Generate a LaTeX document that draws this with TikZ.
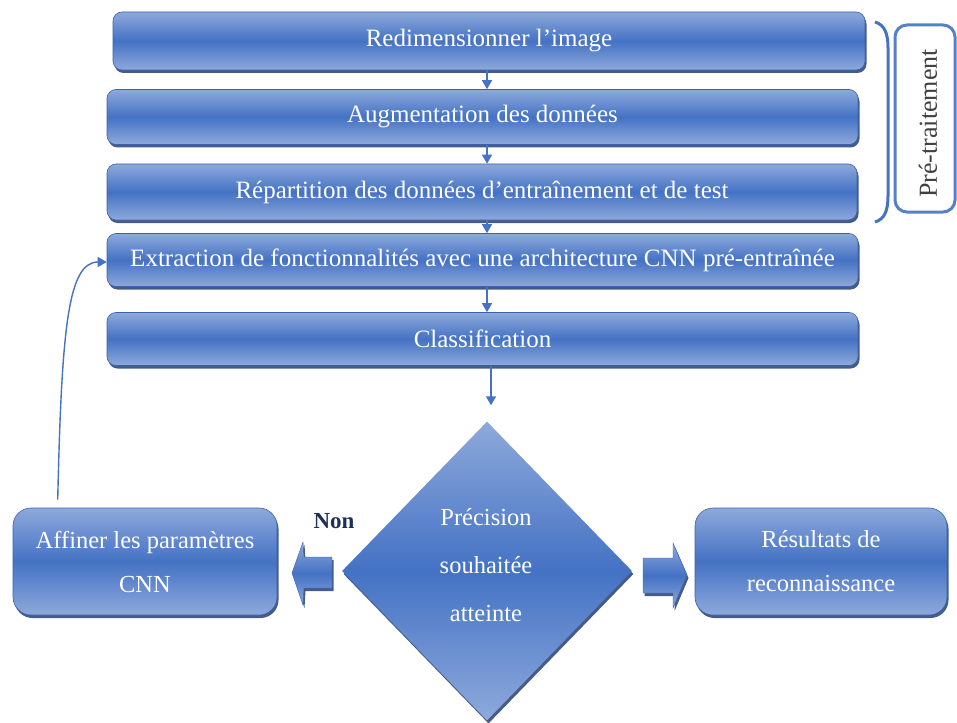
\documentclass[tikz,border=0pt]{standalone}
\usepackage{fontspec}
\setmainfont{Liberation Serif}
\usetikzlibrary{arrows.meta,shadows,shapes.geometric}

\definecolor{bluedark}{HTML}{4472C4}
\definecolor{bluelight}{HTML}{8EA9DB}
\definecolor{blueedge}{HTML}{3A62AC}
\definecolor{navy}{HTML}{243F73}
\definecolor{nontext}{HTML}{1F3056}
\definecolor{pretext}{HTML}{404040}

\tikzset{
  gloss/.style={top color=bluelight, bottom color=bluelight, middle color=bluedark},
  softshadow/.style={drop shadow={shadow xshift=1.5pt, shadow yshift=-3pt, fill=navy, opacity=0.85}},
  stage/.style={gloss, softshadow, draw=blueedge, line width=0.6pt, rounded corners=9pt,
    inner sep=0pt, text=white, font=\fontsize{25}{28}\selectfont},
  sidebox/.style={stage, rounded corners=18pt, align=center, font=\fontsize{24.5}{44}\selectfont},
  decision/.style={shape=diamond, gloss, softshadow, draw=none, inner sep=0pt,
    minimum width=290pt, minimum height=299pt},
  decisiontext/.style={text=white, align=center, inner sep=0pt,
    font=\fontsize{24.5}{48}\selectfont},
  flow/.style={draw=bluedark, line width=1.4pt, -{Triangle[width=10pt,length=9pt]}},
  blockarrow/.style={gloss, softshadow, draw=blueedge, line width=0.4pt},
}

\begin{document}
\begin{tikzpicture}[x=1pt, y=-1pt]
  \useasboundingbox (0,0) rectangle (957,722);

  % pre-processing and main pipeline
  \node[stage, minimum width=752pt, minimum height=58pt] (b1) at (489,41) {Redimensionner l’image};
  \node[stage, minimum width=751pt, minimum height=55pt] (b2) at (482.5,117) {Augmentation des données};
  \node[stage, minimum width=750pt, minimum height=56pt] (b3) at (482,192) {Répartition des données d’entraînement et de test};
  \node[stage, minimum width=751pt, minimum height=53pt] (b4) at (482.5,260) {Extraction de fonctionnalités avec une architecture CNN pré-entraînée};
  \node[stage, minimum width=751pt, minimum height=53pt] (b5) at (482.5,339) {Classification};

  % decision and outcomes
  \node[decision] (d) at (487,571) {};
  \node[decisiontext] (dtext) at (486,565) {Précision\\souhaitée\\atteinte};
  \node[sidebox, minimum width=264pt, minimum height=107pt] (aff) at (145,561.5) {Affiner les paramètres\\CNN};
  \node[sidebox, minimum width=252pt, minimum height=107pt] (res) at (821,561.5) {Résultats de\\reconnaissance};
  \node[font=\bfseries\fontsize{23}{23}\selectfont, text=nontext] (non) at (334,521) {Non};

  % arrows down the pipeline
  \draw[flow] (b1.south -| d.north) -- (b2.north -| d.north);
  \draw[flow] (b2.south -| d.north) -- (b3.north -| d.north);
  \draw[flow] (b3.south -| d.north) -- (b4.north -| d.north);
  \draw[flow] (b4.south -| d.north) -- (b5.north -| d.north);
  \draw[flow, shorten >=16pt] ([xshift=4pt]b5.south -| d.north) -- ([xshift=4pt]d.north);

  % feedback loop back to feature extraction
  \draw[flow] ([shift={(45pt,8pt)}]aff.north west)
    .. controls ([shift={(49pt,178pt)}]aff.north west) and ([xshift=-39pt,yshift=-2pt]b4.west)
    .. ([yshift=-2pt]b4.west);

  % block arrows out of the decision
  \path[blockarrow] (332,557) -- (304,557) -- (303,542) -- (292,573) -- (303,605)
    -- (304,588) -- (332,588) -- cycle;
  \path[blockarrow] (643,558) -- (673,558) -- (673,543) -- (687,575) -- (673,608)
    -- (673,593) -- (643,593) -- cycle;

  % pre-processing group
  \draw[draw=bluedark, line width=3pt]
    (875,22) .. controls (885,25) and (888,34) .. (888,48) -- (888,196)
    .. controls (888,210) and (885,219) .. (875,222);
  \node[draw=bluedark!90!white, line width=3pt, rounded corners=12pt,
    minimum width=60pt, minimum height=187pt, inner sep=0pt] (pre) at (925,118.5) {};
  \node[rotate=90, inner sep=0pt, text=pretext, font=\fontsize{26}{26}\selectfont]
    (pretxt) at ([shift={(3pt,-5pt)}]pre.center) {Pré-traitement};
\end{tikzpicture}
\end{document}
